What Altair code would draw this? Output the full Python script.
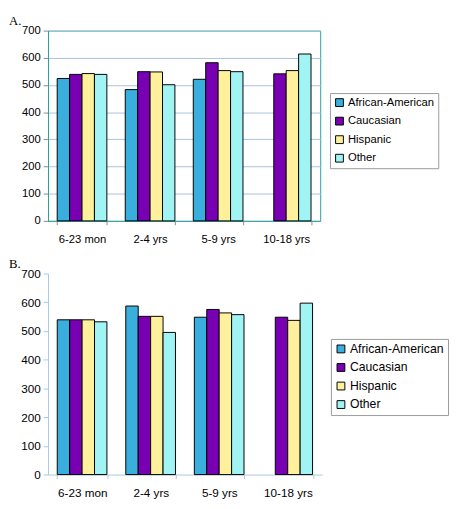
import altair as alt
import pandas as pd

ages = ["6-23 mon", "2-4 yrs", "5-9 yrs", "10-18 yrs"]
groups = ["African-American", "Caucasian", "Hispanic", "Other"]
colors = ["#3aaedc", "#7800b2", "#fff09c", "#a0f4f4"]
y_ticks = [0, 100, 200, 300, 400, 500, 600, 700]
panel_labels = ["A.", "B."]

# Panel A values
a_african_american = [524, 483, 521, None]
a_caucasian = [539, 549, 582, 541]
a_hispanic = [542, 548, 553, 553]
a_other = [539, 501, 549, 614]

# Panel B values
b_african_american = [539, 587, 548, None]
b_caucasian = [539, 551, 575, 548]
b_hispanic = [539, 551, 563, 537]
b_other = [532, 495, 557, 597]


def frame(series):
    rows = []
    for g, vals in zip(groups, series):
        for a, v in zip(ages, vals):
            if v is not None:
                rows.append({"age": a, "group": g, "value": v})
    return pd.DataFrame(rows)


df_a = frame([a_african_american, a_caucasian, a_hispanic, a_other])
df_b = frame([b_african_american, b_caucasian, b_hispanic, b_other])


def panel(df, label, w, h, boxed, fsize, lfsize, lx, ly):
    axis_col = "#2a9fa0" if boxed else "#aac8e4"
    tick_col = "#8a8a8a" if boxed else "#aac8e4"
    bars = (
        alt.Chart(df)
        .mark_bar(stroke="black", strokeWidth=1)
        .encode(
            x=alt.X(
                "age:N",
                sort=ages,
                scale=alt.Scale(domain=ages, paddingInner=0.27, paddingOuter=0.135),
                axis=alt.Axis(
                    title=None,
                    labelAngle=0,
                    tickBand="extent",
                    tickSize=4,
                    tickColor=tick_col,
                    domainColor=axis_col,
                    labelPadding=9,
                    labelFontSize=fsize,
                    labelFont="Liberation Sans",
                    labelColor="black",
                    grid=False,
                ),
            ),
            xOffset=alt.XOffset(
                "group:N", scale=alt.Scale(domain=groups, paddingInner=0, paddingOuter=0)
            ),
            y=alt.Y(
                "value:Q",
                scale=alt.Scale(domain=[0, 700], nice=False),
                axis=alt.Axis(
                    values=y_ticks,
                    title=None,
                    tickSize=5,
                    tickColor=tick_col,
                    domainColor=axis_col,
                    labelPadding=3,
                    labelFontSize=fsize,
                    labelFont="Liberation Sans",
                    labelColor="black",
                    grid=boxed,
                    gridColor="#a9c2da",
                ),
            ),
            color=alt.Color(
                "group:N",
                scale=alt.Scale(domain=groups, range=colors),
                legend=alt.Legend(
                    title=None,
                    orient="none",
                    legendX=lx,
                    legendY=ly,
                    strokeColor="#9a9a9a",
                    padding=4,
                    symbolType="square",
                    symbolSize=64,
                    symbolStrokeColor="black",
                    symbolStrokeWidth=1,
                    symbolOpacity=1,
                    labelFont="Liberation Sans",
                    labelFontSize=lfsize,
                    labelColor="black",
                    labelOffset=3,
                    rowPadding=6,
                ),
            ),
        )
    )
    tag = (
        alt.Chart(pd.DataFrame({"label": [label]}))
        .mark_text(
            font="Liberation Serif",
            fontSize=13,
            color="black",
            align="left",
            baseline="alphabetic",
        )
        .encode(text="label:N", x=alt.value(-40), y=alt.value(-6))
    )
    return alt.layer(bars, tag).properties(
        width=w,
        height=h,
        view=alt.ViewBackground(stroke=axis_col if boxed else "transparent"),
    )


chart_a = panel(df_a, panel_labels[0], 279, 195, True, 11.5, 11.5, 289, 64)
chart_b = panel(df_b, panel_labels[1], 281, 206, False, 12, 12.5, 290, 67)

chart = (
    alt.vconcat(chart_a, chart_b, spacing=12, padding=0)
    .resolve_legend(color="independent")
    .configure_view(strokeWidth=1)
)

chart.save("out.html", embed_options={"renderer": "svg", "actions": False})
